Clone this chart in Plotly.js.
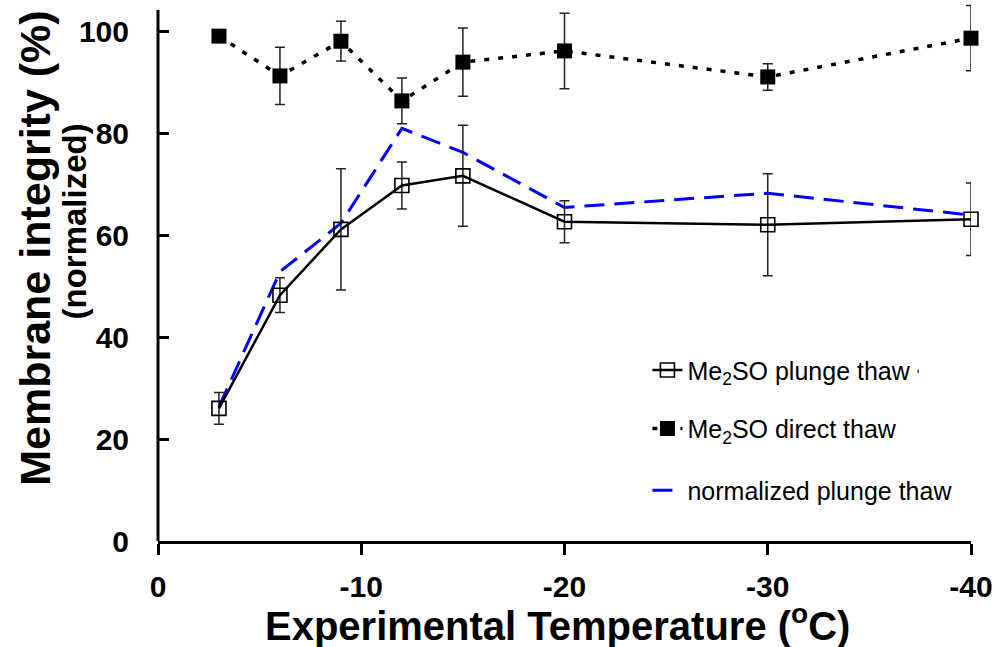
<!DOCTYPE html>
<html>
<head>
<meta charset="utf-8">
<script src="https://cdn.plot.ly/plotly-3.0.1.min.js"></script>
<style>html,body{margin:0;padding:0;background:#fff;}#chart{width:997px;height:647px;}</style>
</head>
<body>
<div id="chart"></div>
<script>
// Experimental temperatures (°C)
const temps = [-3, -6, -9, -12, -15, -20, -30, -40];
// Me2SO plunge thaw (%)
const plungeThaw = [26.0, 48.2, 61.1, 69.7, 71.6, 62.6, 62.0, 63.1];
const plungeErr = [3.1, 3.4, 11.9, 4.6, 9.9, 4.1, 10.0, 7.1];
// Me2SO direct thaw (%)
const directThaw = [99.0, 91.2, 98.0, 86.3, 93.9, 96.1, 91.0, 98.6];
const directErr = [0, 5.6, 3.9, 4.5, 6.7, 7.4, 2.6, 6.4];
// normalized plunge thaw (%)
const normPlunge = [26.3, 52.8, 62.3, 80.9, 76.2, 65.4, 68.2, 63.9];
// axis ticks
const xTicks = [0, -10, -20, -30, -40];
const xTickLabels = ['0', '-10', '-20', '-30', '-40'];
const yTicks = [0, 20, 40, 60, 80, 100];
const yAxisTop = 104.1;

const FONT = 'Liberation Sans, Arial, sans-serif';

const traces = [
  {
    x: temps, y: normPlunge, mode: 'lines', name: 'normalized plunge thaw',
    line: {color: '#0000ff', width: 3, dash: '20px,10px'},
    legend: 'legend3', hoverinfo: 'skip'
  },
  {
    x: temps, y: plungeThaw, mode: 'lines+markers',
    name: 'Me<sub>2</sub>SO plunge thaw <span style="font-size:14px">ʹ</span>',
    line: {color: '#000', width: 2.5},
    marker: {symbol: 'square-open', size: 14, color: '#000', line: {width: 1.6, color: '#000'}},
    error_y: {type: 'data', array: plungeErr, visible: true, color: '#222', thickness: 1.5, width: 5},
    legend: 'legend', cliponaxis: false
  },
  {
    x: temps, y: directThaw, mode: 'lines+markers', name: 'Me<sub>2</sub>SO direct thaw',
    line: {color: '#000', width: 3.5, dash: '5px,9px'},
    marker: {symbol: 'square', size: 15, color: '#000'},
    error_y: {type: 'data', array: directErr, visible: true, color: '#222', thickness: 1.5, width: 5},
    legend: 'legend2', cliponaxis: false
  }
];

const legendBase = {
  xanchor: 'left', yanchor: 'middle', bgcolor: 'rgba(0,0,0,0)',
  font: {family: FONT, size: 25, color: '#000'}
};

const layout = {
  width: 997, height: 647,
  margin: {l: 158, r: 26, t: 4, b: 106},
  paper_bgcolor: '#fff', plot_bgcolor: '#fff',
  showlegend: true,
  legend: Object.assign({}, legendBase, {x: 0.602, y: 0.318}),
  legend2: Object.assign({}, legendBase, {x: 0.602, y: 0.209}),
  legend3: Object.assign({}, legendBase, {x: 0.602, y: 0.094}),
  xaxis: {
    range: [0, -40], tickvals: xTicks, ticktext: xTickLabels,
    showline: true, linecolor: '#000', linewidth: 3,
    ticks: 'outside', ticklen: 11, tickwidth: 3, tickcolor: '#000',
    showgrid: false, zeroline: false,
    tickfont: {family: FONT, size: 30, color: '#000', weight: 'bold'},
    ticklabelstandoff: 6
  },
  yaxis: {
    range: [0, 105.3], tickvals: yTicks,
    showline: false,
    ticks: 'inside', ticklen: 11, tickwidth: 3, tickcolor: '#000',
    showgrid: false, zeroline: false,
    tickfont: {family: FONT, size: 30, color: '#000', weight: 'bold'},
    ticklabelstandoff: 28
  },
  shapes: [
    {type: 'line', xref: 'paper', yref: 'y', x0: 0, x1: 0, y0: 0, y1: yAxisTop,
     line: {color: '#000', width: 3}}
  ],
  annotations: [
    {text: 'Experimental Temperature (<sup>o</sup>C)', xref: 'paper', yref: 'paper',
     x: 0.492, y: -0.153, xanchor: 'center', yanchor: 'middle', showarrow: false,
     font: {family: FONT, size: 40, color: '#000', weight: 'bold'}},
    {text: 'Membrane integrity (%)', xref: 'paper', yref: 'paper', textangle: -90,
     x: -0.1513, y: 0.546, xanchor: 'center', yanchor: 'middle', showarrow: false,
     font: {family: FONT, size: 43, color: '#000', weight: 'bold'}},
    {text: '(normalized)', xref: 'paper', yref: 'paper', textangle: -90,
     x: -0.1033, y: 0.595, xanchor: 'center', yanchor: 'middle', showarrow: false,
     font: {family: FONT, size: 33, color: '#000', weight: 'bold'}}
  ]
};

Plotly.newPlot('chart', traces, layout, {displayModeBar: false, staticPlot: true});
</script>
</body>
</html>
